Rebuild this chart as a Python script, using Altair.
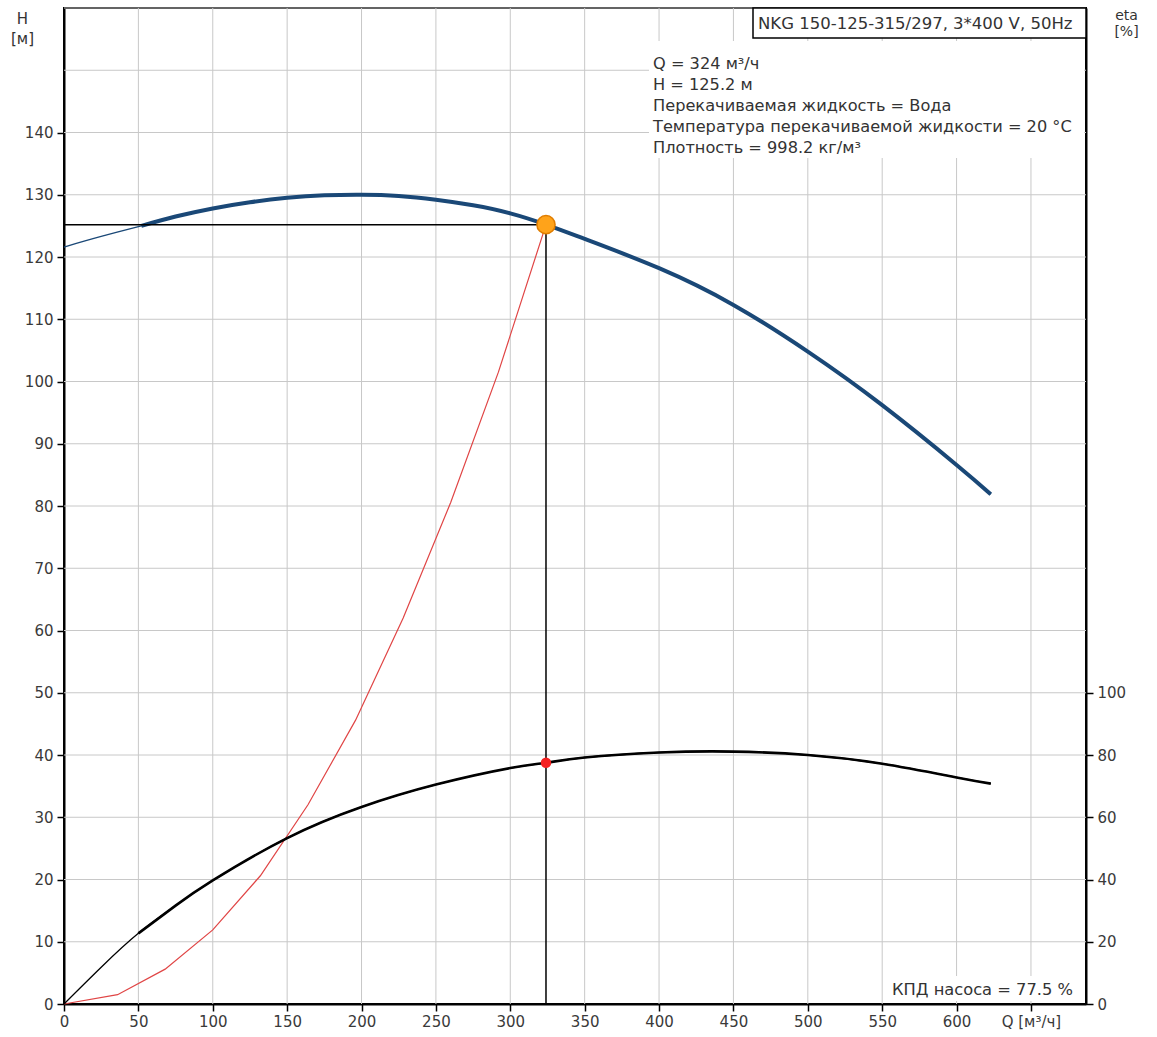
import altair as alt
import pandas as pd

# ---------------- data ----------------
Q_MAX = 687
H_MAX = 160
ETA_MAX = 320

Q_TICKS = list(range(0, 651, 50))
H_TICKS = list(range(0, 141, 10))
ETA_TICKS = [0, 20, 40, 60, 80, 100]
Q_GRID = list(range(50, 651, 50))
H_GRID = list(range(10, 161, 10))

# pump Q-H curve
Q_CURVE = [0, 25, 52, 75, 100, 125, 150, 175, 200, 225, 250, 275, 300, 324, 350, 400, 450, 500, 550, 600, 623]
H_CURVE = [121.6, 123.3, 125.0, 126.5, 127.8, 128.8, 129.5, 129.9, 130.0, 129.8, 129.2, 128.3, 127.0, 125.2,
           122.9, 118.2, 112.3, 104.8, 96.2, 86.6, 81.9]
# efficiency curve
Q_ETA = [0, 25, 50, 75, 100, 150, 200, 250, 300, 324, 350, 400, 450, 500, 550, 600, 623]
ETA_CURVE = [0, 11.8, 22.7, 31.6, 39.7, 53.3, 63.3, 70.5, 75.8, 77.5, 79.2, 80.8, 81.1, 80.0, 77.2, 72.8, 70.8]
# system curve
Q_SYS = [0, 36, 68, 100, 132, 164, 196, 228, 260, 292, 324]
H_SYS = [0, 1.5, 5.6, 11.9, 20.6, 32.0, 45.6, 62.0, 80.6, 101.5, 125.2]

THICK_FROM = 50
Q_OP = 324
H_OP = 125.2
ETA_OP = 77.5

MODEL = "NKG 150-125-315/297, 3*400 V, 50Hz"
INFO_LINES = [
    "Q = 324 м³/ч",
    "H = 125.2 м",
    "Перекачиваемая жидкость = Вода",
    "Температура перекачиваемой жидкости = 20 °C",
    "Плотность = 998.2 кг/м³",
]
KPD = "КПД насоса = 77.5 %"

FONT = "DejaVu Sans"
BLUE = "#1a4877"
GRID = "#c8c8c8"
TXT = "#333333"

df_curve = pd.DataFrame({"Q": Q_CURVE, "H": H_CURVE})
df_eta = pd.DataFrame({"Q": Q_ETA, "eta": ETA_CURVE})
df_sys = pd.DataFrame({"Q": Q_SYS, "H": H_SYS})
df_qgrid = pd.DataFrame({"Q": Q_GRID})
df_hgrid = pd.DataFrame({"H": H_GRID})
df_op = pd.DataFrame({"Q": [Q_OP], "H": [H_OP], "eta": [ETA_OP], "Q0": [0], "H0": [0]})
one = pd.DataFrame({"a": [0]})

# ---------------- scales / axes ----------------
xs = alt.Scale(domain=[0, Q_MAX], nice=False, zero=False)
hs = alt.Scale(domain=[0, H_MAX], nice=False, zero=False)
es = alt.Scale(domain=[0, ETA_MAX], nice=False, zero=False)

x_axis = alt.Axis(values=Q_TICKS, grid=False, title=None, tickSize=7, labelPadding=3,
                  labelFlush=False,
                  labelExpr="datum.value == 650 ? 'Q [м³/ч]' : datum.label")
h_axis = alt.Axis(values=H_TICKS, grid=False, title=["H", "[м]"], titleAngle=0, titleAlign="center",
                  titleBaseline="top", titleX=-42, titleY=3, titleLineHeight=20, titleFontSize=15,
                  titleFontWeight="normal", titleColor=TXT, tickSize=7, labelPadding=4, orient="left")
e_axis = alt.Axis(values=ETA_TICKS, grid=False, title=["eta", "[%]"], titleAngle=0, titleAlign="center",
                  titleBaseline="top", titleX=40, titleY=0, titleLineHeight=16, titleFontSize=14,
                  titleFontWeight="normal", titleColor=TXT, tickSize=7, labelPadding=4, orient="right")


def X(field="Q"):
    return alt.X(field, type="quantitative", scale=xs, axis=x_axis)


def YH(field="H"):
    return alt.Y(field, type="quantitative", scale=hs, axis=h_axis)


def YE(field="eta"):
    return alt.Y(field, type="quantitative", scale=es, axis=e_axis)


# ---------------- H layers ----------------
grid_q = alt.Chart(df_qgrid).mark_rule(color=GRID, strokeWidth=1).encode(x=X("Q"))
grid_h = alt.Chart(df_hgrid).mark_rule(color=GRID, strokeWidth=1).encode(y=YH("H"))

info_box = alt.Chart(one).mark_rect(color="white").encode(
    x=alt.value(585), x2=alt.value(1020), y=alt.value(33), y2=alt.value(150))
kpd_box = alt.Chart(one).mark_rect(color="white").encode(
    x=alt.value(822), x2=alt.value(1015), y=alt.value(968), y2=alt.value(993))
model_box = alt.Chart(one).mark_rect(fill="white", stroke="black", strokeWidth=1.5).encode(
    x=alt.value(689), x2=alt.value(1022), y=alt.value(0), y2=alt.value(30))

blue_thin = alt.Chart(df_curve).mark_line(color=BLUE, strokeWidth=1.3, interpolate="natural").encode(
    x=X("Q"), y=YH("H"))
blue_thick = alt.Chart(df_curve).transform_filter("datum.Q >= 52").mark_line(
    color=BLUE, strokeWidth=4, interpolate="natural").encode(x=X("Q"), y=YH("H"))
sys_line = alt.Chart(df_sys).mark_line(color="#e04545", strokeWidth=1.2).encode(x=X("Q"), y=YH("H"))

op_h = alt.Chart(df_op).mark_rule(color="black", strokeWidth=1.5).encode(x=X("Q0"), x2="Q", y=YH("H"))
op_v = alt.Chart(df_op).mark_rule(color="black", strokeWidth=1.5).encode(x=X("Q"), y=YH("H0"), y2="H")
op_pt = alt.Chart(df_op).mark_point(shape="circle", filled=True, size=330, fill="#ffa31a",
                                    stroke="#e07d00", strokeWidth=1.5, opacity=1).encode(x=X("Q"), y=YH("H"))

info_text = alt.Chart(one).mark_text(text=INFO_LINES, align="left", baseline="alphabetic", font=FONT,
                                     fontSize=16.2, lineHeight=21, color=TXT).encode(
    x=alt.value(589), y=alt.value(61))
model_text = alt.Chart(one).mark_text(text=MODEL, align="left", baseline="alphabetic", font=FONT,
                                      fontSize=16.5, color=TXT).encode(x=alt.value(694), y=alt.value(21))
kpd_text = alt.Chart(one).mark_text(text=KPD, align="right", baseline="alphabetic", font=FONT,
                                    fontSize=16.3, color=TXT).encode(x=alt.value(1009), y=alt.value(986.5))

h_group = alt.layer(grid_q, grid_h, info_box, kpd_box, model_box, blue_thin, blue_thick, sys_line,
                    op_h, op_v, op_pt, info_text, model_text, kpd_text)

# ---------------- eta layers ----------------
eta_thin = alt.Chart(df_eta).mark_line(color="black", strokeWidth=1.3, interpolate="natural").encode(
    x=X("Q"), y=YE("eta"))
eta_thick = alt.Chart(df_eta).transform_filter(f"datum.Q >= {THICK_FROM}").mark_line(
    color="black", strokeWidth=2.6, interpolate="natural").encode(x=X("Q"), y=YE("eta"))
eta_pt = alt.Chart(df_op).mark_point(shape="circle", filled=True, size=110, fill="#f52020",
                                     opacity=1).encode(x=X("Q"), y=YE("eta"))

e_group = alt.layer(eta_thin, eta_thick, eta_pt)

chart = alt.layer(h_group, e_group).resolve_scale(y="independent").properties(
    width=1022, height=996,
    padding={"left": 10, "top": 7, "right": 5, "bottom": 5},
    background="white",
).configure_view(stroke="black", strokeWidth=2).configure_axis(
    labelFont=FONT, labelFontSize=15, labelColor="#3a3a3a", titleFont=FONT,
    domainColor="black", domainWidth=2, tickColor="black", tickWidth=1.5, zindex=1,
)

chart.save("out.html", embed_options={"renderer": "svg", "actions": False})
